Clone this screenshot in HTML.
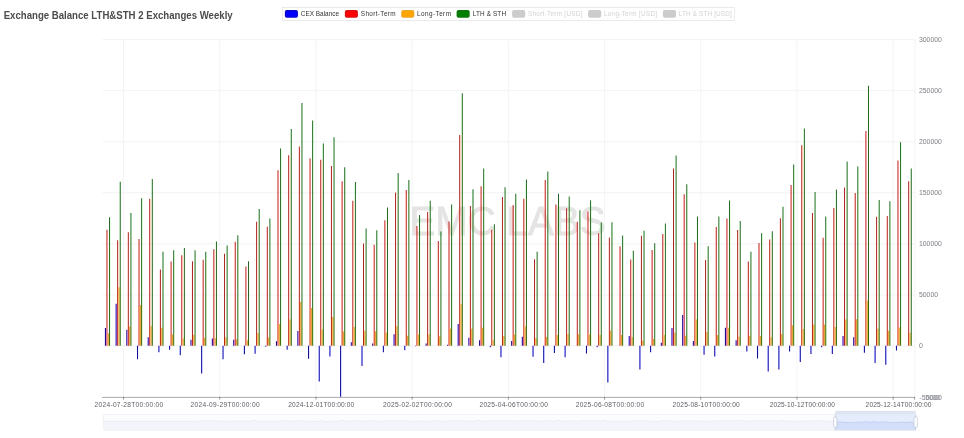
<!DOCTYPE html>
<html><head><meta charset="utf-8"><title>Exchange Balance LTH&amp;STH 2 Exchanges Weekly</title>
<style>
html,body{margin:0;padding:0;background:#fff;}
body{width:964px;height:438px;position:relative;overflow:hidden;font-family:"Liberation Sans",Arial,sans-serif;}
#wrap{position:absolute;left:0;top:0;width:964px;height:438px;background:#fff;filter:url(#cb);}
</style></head><body>
<svg width="0" height="0" style="position:absolute"><defs><filter id="cb" x="0" y="0" width="100%" height="100%" color-interpolation-filters="sRGB"><feGaussianBlur in="SourceGraphic" stdDeviation="0.85" result="B0"/><feComposite in="B0" in2="SourceGraphic" operator="arithmetic" k1="0" k2="0.7" k3="0.3" k4="0" result="B"/><feBlend in="B" in2="SourceGraphic" mode="color"/></filter></defs></svg>
<div id="wrap">
<svg width="260" height="30" viewBox="0 0 260 30" style="position:absolute;left:0;top:0"><text x="3.7" y="18.7" font-family="Liberation Sans,Arial,sans-serif" font-weight="bold" font-size="10" fill="#4c4c4c" textLength="229" lengthAdjust="spacingAndGlyphs">Exchange Balance LTH&amp;STH 2 Exchanges Weekly</text></svg>
<svg width="964" height="30" viewBox="0 0 964 30" style="position:absolute;left:0;top:0;font-family:'Liberation Sans',Arial,sans-serif">
<rect x="282.7" y="7.5" width="451.6" height="13.2" fill="none" stroke="#d6d6d6" stroke-width="0.5"/>
<rect x="284.85" y="10.1" width="13.1" height="7.6" rx="1.9" fill="#0000ff"/>
<text x="300.8" y="16.2" font-size="6.4" fill="#333" textLength="38.2" lengthAdjust="spacing">CEX Balance</text>
<rect x="344.85" y="10.1" width="13.1" height="7.6" rx="1.9" fill="#ff0000"/>
<text x="360.8" y="16.2" font-size="6.4" fill="#333" textLength="34.8" lengthAdjust="spacing">Short-Term</text>
<rect x="401.2" y="10.1" width="13.1" height="7.6" rx="1.9" fill="#ffa500"/>
<text x="417.1" y="16.2" font-size="6.4" fill="#333" textLength="33.9" lengthAdjust="spacing">Long-Term</text>
<rect x="456.6" y="10.1" width="13.1" height="7.6" rx="1.9" fill="#008000"/>
<text x="472.8" y="16.2" font-size="6.4" fill="#333" textLength="33.2" lengthAdjust="spacing">LTH &amp; STH</text>
<rect x="512.1" y="10.1" width="13.1" height="7.6" rx="1.9" fill="#ccc"/>
<text x="528" y="16.2" font-size="6.4" fill="#d2d2d2" textLength="54.5" lengthAdjust="spacing">Short-Term [USD]</text>
<rect x="588.1" y="10.1" width="13.1" height="7.6" rx="1.9" fill="#ccc"/>
<text x="603.9" y="16.2" font-size="6.4" fill="#d2d2d2" textLength="53.2" lengthAdjust="spacing">Long-Term [USD]</text>
<rect x="662.9" y="10.1" width="13.1" height="7.6" rx="1.9" fill="#ccc"/>
<text x="678.8" y="16.2" font-size="6.4" fill="#d2d2d2" textLength="53" lengthAdjust="spacing">LTH &amp; STH [USD]</text>
</svg>
<svg width="964" height="438" viewBox="0 0 964 438" style="position:absolute;left:0;top:0;font-family:'Liberation Sans',Arial,sans-serif">
<text x="409.6" y="234.8" font-size="41.5" fill="#e4e4e4" stroke="#e4e4e4" stroke-width="0.9" textLength="196" lengthAdjust="spacingAndGlyphs">EMC LABS</text>
<path d="M102.6 39.65H915M102.6 90.7H915M102.6 141.75H915M102.6 192.8H915M102.6 243.85H915M102.6 294.9H915M102.6 345.95H915" stroke="#e5e7ec" stroke-width="0.5" fill="none"/>
<path d="M123.53 39.65V397.4M219.73 39.65V397.4M315.94 39.65V397.4M412.14 39.65V397.4M508.35 39.65V397.4M604.56 39.65V397.4M700.76 39.65V397.4M796.97 39.65V397.4M893.17 39.65V397.4M915 39.65V397.4" stroke="#e5e7ec" stroke-width="0.45" fill="none"/>
<path d="M104.91 328.1h1.08V345.7h-1.08zM115.6 303.7h1.08V345.7h-1.08zM126.29 329.8h1.08V345.7h-1.08zM136.98 345.7h1.08V359.2h-1.08zM147.67 337.3h1.08V345.7h-1.08zM158.36 345.7h1.08V352.2h-1.08zM169.05 345.7h1.08V349.7h-1.08zM179.74 345.7h1.08V355.2h-1.08zM190.43 339.8h1.08V345.7h-1.08zM201.12 345.7h1.08V373.4h-1.08zM211.8 338.5h1.08V345.7h-1.08zM222.49 345.7h1.08V359.2h-1.08zM233.18 339.8h1.08V345.7h-1.08zM243.87 345.7h1.08V354.2h-1.08zM254.56 345.7h1.08V353.7h-1.08zM265.25 345.7h1.08V346.7h-1.08zM275.94 341.3h1.08V345.7h-1.08zM286.63 345.7h1.08V349.7h-1.08zM297.32 331.1h1.08V345.7h-1.08zM308.01 345.7h1.08V358.7h-1.08zM318.7 345.7h1.08V381.6h-1.08zM329.39 345.7h1.08V356.4h-1.08zM340.08 345.7h1.08V396.7h-1.08zM350.77 342.3h1.08V345.7h-1.08zM361.46 345.7h1.08V365.9h-1.08zM372.15 343.5h1.08V345.7h-1.08zM382.84 345.7h1.08V352.2h-1.08zM393.53 334.3h1.08V345.7h-1.08zM404.22 345.7h1.08V350.2h-1.08zM414.9 345.7h1.08V346.2h-1.08zM425.59 343.5h1.08V345.7h-1.08zM446.97 344.7h1.08V345.7h-1.08zM457.66 324.1h1.08V345.7h-1.08zM468.35 337.8h1.08V345.7h-1.08zM479.04 340.3h1.08V345.7h-1.08zM489.73 345.7h1.08V347.2h-1.08zM500.42 345.7h1.08V357.2h-1.08zM511.11 341h1.08V345.7h-1.08zM521.8 336.8h1.08V345.7h-1.08zM532.49 345.7h1.08V356.7h-1.08zM543.18 345.7h1.08V362.9h-1.08zM553.87 345.7h1.08V353h-1.08zM564.56 345.7h1.08V357.2h-1.08zM585.94 345.7h1.08V353.5h-1.08zM596.63 345.7h1.08V347.2h-1.08zM607.32 345.7h1.08V382.6h-1.08zM628.69 336h1.08V345.7h-1.08zM639.38 345.7h1.08V369.6h-1.08zM650.07 345.7h1.08V352.2h-1.08zM660.76 342.8h1.08V345.7h-1.08zM671.45 328.1h1.08V345.7h-1.08zM682.14 314.9h1.08V345.7h-1.08zM692.83 341h1.08V345.7h-1.08zM703.52 345.7h1.08V354.7h-1.08zM714.21 345.7h1.08V356.4h-1.08zM724.9 327.8h1.08V345.7h-1.08zM735.59 340.3h1.08V345.7h-1.08zM746.28 345.7h1.08V351.5h-1.08zM756.97 345.7h1.08V358.4h-1.08zM767.66 345.7h1.08V371.4h-1.08zM778.35 345.7h1.08V369.6h-1.08zM789.04 345.7h1.08V351.5h-1.08zM799.73 345.7h1.08V362h-1.08zM810.42 345.7h1.08V354h-1.08zM821.1 345.7h1.08V347.2h-1.08zM831.79 345.7h1.08V354h-1.08zM842.48 336h1.08V345.7h-1.08zM853.17 337.3h1.08V345.7h-1.08zM863.86 345.7h1.08V352.7h-1.08zM874.55 345.7h1.08V362.9h-1.08zM885.24 345.7h1.08V364.7h-1.08zM895.93 345.7h1.08V350.5h-1.08z" fill="#0000ff"/>
<path d="M106.45 229.8h1V345.7h-1zM117.14 240.2h1V345.7h-1zM127.83 232.3h1V345.7h-1zM138.52 239h1V345.7h-1zM149.21 198.7h1V345.7h-1zM159.9 269.6h1V345.7h-1zM170.59 261.4h1V345.7h-1zM181.28 255.2h1V345.7h-1zM191.97 261.2h1V345.7h-1zM202.66 259.7h1V345.7h-1zM213.34 249.2h1V345.7h-1zM224.03 253.7h1V345.7h-1zM234.72 241.7h1V345.7h-1zM245.41 266.6h1V345.7h-1zM256.1 221.8h1V345.7h-1zM266.79 226.8h1V345.7h-1zM277.48 170.2h1V345.7h-1zM288.17 155.2h1V345.7h-1zM298.86 146.5h1V345.7h-1zM309.55 158.2h1V345.7h-1zM320.24 159.7h1V345.7h-1zM330.93 166h1V345.7h-1zM341.62 181.3h1V345.7h-1zM352.31 200.7h1V345.7h-1zM363 243.5h1V345.7h-1zM373.69 244.7h1V345.7h-1zM384.38 220.3h1V345.7h-1zM395.07 192.4h1V345.7h-1zM405.76 190h1V345.7h-1zM416.44 226.1h1V345.7h-1zM427.13 211.9h1V345.7h-1zM437.82 241h1V345.7h-1zM448.51 221.6h1V345.7h-1zM459.2 135h1V345.7h-1zM469.89 206.1h1V345.7h-1zM480.58 186.3h1V345.7h-1zM491.27 229.8h1V345.7h-1zM501.96 196.9h1V345.7h-1zM512.65 204.9h1V345.7h-1zM523.34 198.7h1V345.7h-1zM534.03 259.2h1V345.7h-1zM544.72 180.1h1V345.7h-1zM555.41 204.4h1V345.7h-1zM566.1 208.2h1V345.7h-1zM576.79 221.7h1V345.7h-1zM587.48 211.4h1V345.7h-1zM598.17 233.2h1V345.7h-1zM608.86 237.5h1V345.7h-1zM619.54 246.2h1V345.7h-1zM630.23 259.4h1V345.7h-1zM640.92 235.7h1V345.7h-1zM651.61 249.9h1V345.7h-1zM662.3 234.1h1V345.7h-1zM672.99 168.6h1V345.7h-1zM683.68 194.3h1V345.7h-1zM694.37 242.5h1V345.7h-1zM705.06 259.9h1V345.7h-1zM715.75 227.1h1V345.7h-1zM726.44 218.4h1V345.7h-1zM737.13 230h1V345.7h-1zM747.82 261.6h1V345.7h-1zM758.51 242.9h1V345.7h-1zM769.2 239.6h1V345.7h-1zM779.89 218.3h1V345.7h-1zM790.58 185h1V345.7h-1zM801.27 145.2h1V345.7h-1zM811.96 213.1h1V345.7h-1zM822.64 237.8h1V345.7h-1zM833.33 208.1h1V345.7h-1zM844.02 187.5h1V345.7h-1zM854.71 192.9h1V345.7h-1zM865.4 131h1V345.7h-1zM876.09 216.8h1V345.7h-1zM886.78 216.1h1V345.7h-1zM897.47 160.4h1V345.7h-1zM908.16 181.3h1V345.7h-1z" fill="#ff0000"/>
<path d="M107.73 333.2h1.18V345.7h-1.18zM118.42 287.3h1.18V345.7h-1.18zM129.11 326.5h1.18V345.7h-1.18zM139.8 304.9h1.18V345.7h-1.18zM150.49 326.1h1.18V345.7h-1.18zM161.18 327.8h1.18V345.7h-1.18zM171.87 334.5h1.18V345.7h-1.18zM182.56 338.5h1.18V345.7h-1.18zM193.25 334.7h1.18V345.7h-1.18zM203.94 337.7h1.18V345.7h-1.18zM214.62 338h1.18V345.7h-1.18zM225.31 337.5h1.18V345.7h-1.18zM236 339.3h1.18V345.7h-1.18zM246.69 340.3h1.18V345.7h-1.18zM257.38 333h1.18V345.7h-1.18zM268.07 337.5h1.18V345.7h-1.18zM278.76 324h1.18V345.7h-1.18zM289.45 319.6h1.18V345.7h-1.18zM300.14 302.1h1.18V345.7h-1.18zM310.83 307.9h1.18V345.7h-1.18zM321.52 329.5h1.18V345.7h-1.18zM332.21 317h1.18V345.7h-1.18zM342.9 331.6h1.18V345.7h-1.18zM353.59 327h1.18V345.7h-1.18zM364.28 330.7h1.18V345.7h-1.18zM374.97 331.3h1.18V345.7h-1.18zM385.66 332.8h1.18V345.7h-1.18zM396.35 326.2h1.18V345.7h-1.18zM407.04 335.8h1.18V345.7h-1.18zM417.72 334.5h1.18V345.7h-1.18zM428.41 334.5h1.18V345.7h-1.18zM439.1 336.2h1.18V345.7h-1.18zM449.79 328.5h1.18V345.7h-1.18zM460.48 303.9h1.18V345.7h-1.18zM471.17 328.8h1.18V345.7h-1.18zM481.86 327.8h1.18V345.7h-1.18zM492.55 340.2h1.18V345.7h-1.18zM503.24 336.1h1.18V345.7h-1.18zM513.93 334.6h1.18V345.7h-1.18zM524.62 326.6h1.18V345.7h-1.18zM535.31 338.2h1.18V345.7h-1.18zM546 337h1.18V345.7h-1.18zM556.69 335.1h1.18V345.7h-1.18zM567.38 333.9h1.18V345.7h-1.18zM578.07 334.2h1.18V345.7h-1.18zM588.76 334.5h1.18V345.7h-1.18zM599.45 335.1h1.18V345.7h-1.18zM610.14 330.4h1.18V345.7h-1.18zM620.82 334.9h1.18V345.7h-1.18zM631.51 337h1.18V345.7h-1.18zM642.2 340.8h1.18V345.7h-1.18zM652.89 339h1.18V345.7h-1.18zM663.58 335h1.18V345.7h-1.18zM674.27 332.5h1.18V345.7h-1.18zM684.96 335.7h1.18V345.7h-1.18zM695.65 319.6h1.18V345.7h-1.18zM706.34 332.1h1.18V345.7h-1.18zM717.03 335h1.18V345.7h-1.18zM727.72 327.8h1.18V345.7h-1.18zM738.41 336.7h1.18V345.7h-1.18zM749.1 335.8h1.18V345.7h-1.18zM759.79 336h1.18V345.7h-1.18zM770.48 337.3h1.18V345.7h-1.18zM781.17 334.1h1.18V345.7h-1.18zM791.86 325.2h1.18V345.7h-1.18zM802.55 329h1.18V345.7h-1.18zM813.24 324.5h1.18V345.7h-1.18zM823.92 324.5h1.18V345.7h-1.18zM834.61 327.1h1.18V345.7h-1.18zM845.3 319.6h1.18V345.7h-1.18zM855.99 319.2h1.18V345.7h-1.18zM866.68 300.4h1.18V345.7h-1.18zM877.37 328.8h1.18V345.7h-1.18zM888.06 330.8h1.18V345.7h-1.18zM898.75 327.5h1.18V345.7h-1.18zM909.44 332.8h1.18V345.7h-1.18z" fill="#ffa500"/>
<path d="M109.05 217.3h1V345.7h-1zM119.74 181.8h1V345.7h-1zM130.43 213.1h1V345.7h-1zM141.12 198.2h1V345.7h-1zM151.81 179.1h1V345.7h-1zM162.5 251.7h1V345.7h-1zM173.19 250.2h1V345.7h-1zM183.88 248h1V345.7h-1zM194.57 250.2h1V345.7h-1zM205.26 251.7h1V345.7h-1zM215.94 241.5h1V345.7h-1zM226.63 245.5h1V345.7h-1zM237.32 235.3h1V345.7h-1zM248.01 261.2h1V345.7h-1zM258.7 209.1h1V345.7h-1zM269.39 218.6h1V345.7h-1zM280.08 148.5h1V345.7h-1zM290.77 129.1h1V345.7h-1zM301.46 102.9h1V345.7h-1zM312.15 120.4h1V345.7h-1zM322.84 143.5h1V345.7h-1zM333.53 137.3h1V345.7h-1zM344.22 167.2h1V345.7h-1zM354.91 182h1V345.7h-1zM365.6 228.5h1V345.7h-1zM376.29 230.3h1V345.7h-1zM386.98 207.4h1V345.7h-1zM397.67 172.9h1V345.7h-1zM408.36 180.1h1V345.7h-1zM419.04 214.9h1V345.7h-1zM429.73 200.7h1V345.7h-1zM440.42 231.5h1V345.7h-1zM451.11 204.4h1V345.7h-1zM461.8 93.2h1V345.7h-1zM472.49 189.2h1V345.7h-1zM483.18 168.4h1V345.7h-1zM493.87 224.3h1V345.7h-1zM504.56 187.3h1V345.7h-1zM515.25 193.8h1V345.7h-1zM525.94 179.6h1V345.7h-1zM536.63 251.7h1V345.7h-1zM547.32 171.4h1V345.7h-1zM558.01 193.8h1V345.7h-1zM568.7 196.4h1V345.7h-1zM579.39 210.2h1V345.7h-1zM590.08 200.2h1V345.7h-1zM600.77 222.6h1V345.7h-1zM611.46 222.2h1V345.7h-1zM622.14 235.4h1V345.7h-1zM632.83 250.7h1V345.7h-1zM643.52 230.8h1V345.7h-1zM654.21 243.2h1V345.7h-1zM664.9 223.4h1V345.7h-1zM675.59 155.4h1V345.7h-1zM686.28 184.3h1V345.7h-1zM696.97 216.4h1V345.7h-1zM707.66 246.3h1V345.7h-1zM718.35 216.4h1V345.7h-1zM729.04 200.5h1V345.7h-1zM739.73 221h1V345.7h-1zM750.42 251.7h1V345.7h-1zM761.11 233.2h1V345.7h-1zM771.8 231.2h1V345.7h-1zM782.49 206.7h1V345.7h-1zM793.18 164.5h1V345.7h-1zM803.87 128.5h1V345.7h-1zM814.56 191.9h1V345.7h-1zM825.24 216.6h1V345.7h-1zM835.93 189.5h1V345.7h-1zM846.62 161.4h1V345.7h-1zM857.31 166.4h1V345.7h-1zM868 85.7h1V345.7h-1zM878.69 199.9h1V345.7h-1zM889.38 201.2h1V345.7h-1zM900.07 142.2h1V345.7h-1zM910.76 168.4h1V345.7h-1z" fill="#008000"/>
<path d="M102.1 397.4H915" stroke="#6e7079" stroke-width="0.6" fill="none"/>
<path d="M123.53 396.8V399.7M219.73 396.8V399.7M315.94 396.8V399.7M412.14 396.8V399.7M508.35 396.8V399.7M604.56 396.8V399.7M700.76 396.8V399.7M796.97 396.8V399.7M893.17 396.8V399.7M914.6 396.8V399.7" stroke="#55575f" stroke-width="0.6" fill="none"/>
<text x="94.62" y="406.9" font-size="6.6" fill="#5f6169" textLength="68.5" lengthAdjust="spacing">2024-07-28T00:00:00</text>
<text x="190.58" y="406.9" font-size="6.6" fill="#5f6169" textLength="69" lengthAdjust="spacing">2024-09-29T00:00:00</text>
<text x="288.28" y="406.9" font-size="6.6" fill="#5f6169" textLength="66" lengthAdjust="spacing">2024-12-01T00:00:00</text>
<text x="383.09" y="406.9" font-size="6.6" fill="#5f6169" textLength="68.8" lengthAdjust="spacing">2025-02-02T00:00:00</text>
<text x="479.44" y="406.9" font-size="6.6" fill="#5f6169" textLength="68.5" lengthAdjust="spacing">2025-04-06T00:00:00</text>
<text x="575.7" y="406.9" font-size="6.6" fill="#5f6169" textLength="68.4" lengthAdjust="spacing">2025-06-08T00:00:00</text>
<text x="672.51" y="406.9" font-size="6.6" fill="#5f6169" textLength="67.2" lengthAdjust="spacing">2025-08-10T00:00:00</text>
<text x="769.66" y="406.9" font-size="6.6" fill="#5f6169" textLength="65.3" lengthAdjust="spacing">2025-10-12T00:00:00</text>
<text x="865.62" y="406.9" font-size="6.6" fill="#5f6169" textLength="65.8" lengthAdjust="spacing">2025-12-14T00:00:00</text>
<text x="918.9" y="41.9" font-size="6.9" fill="#7d7f87">300000</text>
<text x="918.9" y="92.95" font-size="6.9" fill="#7d7f87">250000</text>
<text x="918.9" y="144" font-size="6.9" fill="#7d7f87">200000</text>
<text x="918.9" y="195.05" font-size="6.9" fill="#7d7f87">150000</text>
<text x="918.9" y="246.1" font-size="6.9" fill="#7d7f87">100000</text>
<text x="918.9" y="297.15" font-size="6.9" fill="#7d7f87">50000</text>
<text x="918.9" y="348.2" font-size="6.9" fill="#7d7f87">0</text>
<text x="919.2" y="399.6" font-size="6.9" fill="#7d7f87" textLength="22.6" lengthAdjust="spacing">-50000</text>
<text x="925.3" y="399.6" font-size="6.9" fill="#8a8c94" textLength="14.6" lengthAdjust="spacing">5000</text>
</svg>
<svg width="964" height="30" viewBox="0 408 964 30" style="position:absolute;left:0;top:408px">
<rect x="103.4" y="414.4" width="812.3" height="15.9" rx="1.5" fill="#fbfcfe" stroke="#dde2ec" stroke-width="0.5"/>
<path d="M103.7 430 L103.7 421.3 L105.9 421.3 L108.1 421.3 L110.3 421.3 L112.5 421.3 L114.7 421.3 L116.9 421.3 L119.1 421.3 L121.3 421.3 L123.5 421.3 L125.7 421.3 L127.9 421.3 L130.1 421.3 L132.3 421.3 L134.5 421.3 L136.7 421.3 L138.9 421.3 L141.1 421.3 L143.3 421.3 L145.5 421.3 L147.7 421.3 L149.9 421.3 L152.1 421.3 L154.3 421.3 L156.5 421.3 L158.7 421.3 L160.9 421.3 L163.1 421.3 L165.3 421.3 L167.5 421.3 L169.7 421.3 L171.9 421.3 L174.1 421.3 L176.3 421.3 L178.5 421.3 L180.7 421.3 L182.9 421.3 L185.1 421.3 L187.3 421.3 L189.5 421.3 L191.7 421.3 L193.9 421.3 L196.1 421.3 L198.3 421.3 L200.5 420.74 L202.7 421.04 L204.9 420.87 L207.1 421.1 L209.3 421.13 L211.5 420.57 L213.7 420.51 L215.9 421.34 L218.1 420.76 L220.3 420.73 L222.5 421.5 L224.7 420.97 L226.9 421.34 L229.1 420.98 L231.3 421.14 L233.5 420.65 L235.7 421.13 L237.9 421.37 L240.1 421.02 L242.3 421.24 L244.5 421.17 L246.7 420.56 L248.9 421.26 L251.1 421.09 L253.3 420.8 L255.5 420.53 L257.7 421.37 L259.9 420.97 L262.1 421.22 L264.3 421.38 L266.5 421.21 L268.7 421.42 L270.9 420.89 L273.1 421.3 L275.3 420.94 L277.5 421.44 L279.7 421.38 L281.9 420.6 L284.1 420.64 L286.3 420.72 L288.5 421.47 L290.7 420.94 L292.9 421.13 L295.1 420.8 L297.3 421.01 L299.5 420.89 L301.7 420.85 L303.9 421.09 L306.1 421.08 L308.3 421.4 L310.5 421.18 L312.7 421.43 L314.9 421.36 L317.1 421.49 L319.3 421.17 L321.5 420.66 L323.7 421.36 L325.9 421.46 L328.1 421.4 L330.3 421.07 L332.5 421.21 L334.7 420.71 L336.9 421.33 L339.1 421.07 L341.3 420.78 L343.5 420.56 L345.7 421.35 L347.9 421.49 L350.1 420.59 L352.3 421.3 L354.5 420.91 L356.7 420.65 L358.9 420.79 L361.1 421.27 L363.3 421.37 L365.5 420.54 L367.7 421.11 L369.9 420.54 L372.1 421.22 L374.3 420.83 L376.5 421.38 L378.7 421.48 L380.9 421.01 L383.1 421.5 L385.3 420.81 L387.5 420.58 L389.7 421.1 L391.9 420.53 L394.1 420.7 L396.3 420.91 L398.5 421.11 L400.7 420.66 L402.9 420.54 L405.1 421.37 L407.3 420.81 L409.5 421.46 L411.7 421.4 L413.9 420.88 L416.1 420.96 L418.3 421.02 L420.5 421.14 L422.7 421.1 L424.9 421.06 L427.1 421.12 L429.3 421.44 L431.5 421.01 L433.7 420.93 L435.9 421.22 L438.1 420.74 L440.3 420.8 L442.5 421.48 L444.7 421.02 L446.9 421.05 L449.1 420.51 L451.3 420.92 L453.5 421.08 L455.7 420.52 L457.9 421.12 L460.1 421.13 L462.3 420.56 L464.5 421.13 L466.7 420.97 L468.9 421.18 L471.1 420.85 L473.3 421.21 L475.5 421.24 L477.7 420.52 L479.9 420.56 L482.1 421.18 L484.3 421.46 L486.5 420.75 L488.7 420.96 L490.9 421.09 L493.1 420.82 L495.3 420.86 L497.5 420.81 L499.7 420.87 L501.9 421.1 L504.1 420.8 L506.3 420.88 L508.5 421.27 L510.7 420.53 L512.9 421.07 L515.1 421.24 L517.3 420.81 L519.5 420.72 L521.7 421.3 L523.9 420.74 L526.1 420.69 L528.3 420.94 L530.5 421.2 L532.7 420.6 L534.9 420.82 L537.1 420.83 L539.3 421.33 L541.5 420.94 L543.7 421.36 L545.9 420.67 L548.1 420.84 L550.3 421.15 L552.5 421.38 L554.7 420.95 L556.9 420.73 L559.1 420.62 L561.3 421.03 L563.5 420.69 L565.7 421.31 L567.9 421.34 L570.1 420.68 L572.3 420.78 L574.5 421.31 L576.7 421.14 L578.9 421.31 L581.1 420.85 L583.3 420.63 L585.5 420.79 L587.7 421.29 L589.9 420.77 L592.1 420.85 L594.3 420.92 L596.5 420.92 L598.7 420.91 L600.9 421.42 L603.1 420.66 L605.3 420.5 L607.5 421.44 L609.7 421.38 L611.9 421.49 L614.1 420.93 L616.3 421.45 L618.5 421.43 L620.7 420.72 L622.9 421.25 L625.1 421.34 L627.3 421.16 L629.5 421.02 L631.7 420.79 L633.9 420.84 L636.1 420.73 L638.3 420.57 L640.5 421.09 L642.7 420.79 L644.9 421.31 L647.1 420.55 L649.3 421.4 L651.5 421.19 L653.7 421.42 L655.9 421.4 L658.1 421.4 L660.3 421.08 L662.5 420.51 L664.7 421.25 L666.9 420.67 L669.1 420.8 L671.3 421.16 L673.5 421.02 L675.7 420.91 L677.9 421.44 L680.1 421.11 L682.3 420.84 L684.5 420.75 L686.7 421.36 L688.9 420.98 L691.1 421.28 L693.3 420.85 L695.5 420.7 L697.7 421.03 L699.9 421.32 L702.1 420.67 L704.3 421.29 L706.5 421.42 L708.7 421.31 L710.9 421.32 L713.1 420.51 L715.3 421.13 L717.5 421.36 L719.7 420.55 L721.9 420.77 L724.1 420.77 L726.3 421.03 L728.5 420.92 L730.7 420.97 L732.9 421.28 L735.1 420.5 L737.3 420.55 L739.5 420.63 L741.7 420.62 L743.9 420.57 L746.1 421.47 L748.3 421.35 L750.5 420.59 L752.7 421 L754.9 420.82 L757.1 420.81 L759.3 420.85 L761.5 421.15 L763.7 421.09 L765.9 420.86 L768.1 420.69 L770.3 420.83 L772.5 420.62 L774.7 421.06 L776.9 421.22 L779.1 420.88 L781.3 420.58 L783.5 420.68 L785.7 420.87 L787.9 421.1 L790.1 421.28 L792.3 420.88 L794.5 421.3 L796.7 421.12 L798.9 420.93 L801.1 420.87 L803.3 421 L805.5 421.2 L807.7 420.92 L809.9 421.19 L812.1 420.96 L814.3 420.75 L816.5 421.04 L818.7 421.2 L820.9 420.57 L823.1 420.92 L825.3 420.93 L827.5 421.38 L829.7 421.44 L831.9 420.87 L834.1 421.4 L836.3 421.29 L838.5 420.76 L840.7 420.96 L842.9 420.62 L845.1 421.31 L847.3 421.16 L849.5 421.39 L851.7 421.29 L853.9 421.17 L856.1 421.23 L858.3 421.06 L860.5 420.6 L862.7 421.09 L864.9 420.5 L867.1 420.64 L869.3 421.27 L871.5 420.54 L873.7 420.59 L875.9 420.6 L878.1 421.38 L880.3 420.68 L882.5 420.52 L884.7 421.34 L886.9 420.62 L889.1 421.34 L891.3 421.17 L893.5 421.34 L895.7 421.45 L897.9 421.08 L900.1 421.3 L902.3 420.54 L904.5 421.27 L906.7 421.01 L908.9 421.22 L911.1 420.61 L913.3 421.25 L915.4 430Z" fill="#f4f5fa"/>
<path d="M103.7 421.3 L105.9 421.3 L108.1 421.3 L110.3 421.3 L112.5 421.3 L114.7 421.3 L116.9 421.3 L119.1 421.3 L121.3 421.3 L123.5 421.3 L125.7 421.3 L127.9 421.3 L130.1 421.3 L132.3 421.3 L134.5 421.3 L136.7 421.3 L138.9 421.3 L141.1 421.3 L143.3 421.3 L145.5 421.3 L147.7 421.3 L149.9 421.3 L152.1 421.3 L154.3 421.3 L156.5 421.3 L158.7 421.3 L160.9 421.3 L163.1 421.3 L165.3 421.3 L167.5 421.3 L169.7 421.3 L171.9 421.3 L174.1 421.3 L176.3 421.3 L178.5 421.3 L180.7 421.3 L182.9 421.3 L185.1 421.3 L187.3 421.3 L189.5 421.3 L191.7 421.3 L193.9 421.3 L196.1 421.3 L198.3 421.3 L200.5 420.74 L202.7 421.04 L204.9 420.87 L207.1 421.1 L209.3 421.13 L211.5 420.57 L213.7 420.51 L215.9 421.34 L218.1 420.76 L220.3 420.73 L222.5 421.5 L224.7 420.97 L226.9 421.34 L229.1 420.98 L231.3 421.14 L233.5 420.65 L235.7 421.13 L237.9 421.37 L240.1 421.02 L242.3 421.24 L244.5 421.17 L246.7 420.56 L248.9 421.26 L251.1 421.09 L253.3 420.8 L255.5 420.53 L257.7 421.37 L259.9 420.97 L262.1 421.22 L264.3 421.38 L266.5 421.21 L268.7 421.42 L270.9 420.89 L273.1 421.3 L275.3 420.94 L277.5 421.44 L279.7 421.38 L281.9 420.6 L284.1 420.64 L286.3 420.72 L288.5 421.47 L290.7 420.94 L292.9 421.13 L295.1 420.8 L297.3 421.01 L299.5 420.89 L301.7 420.85 L303.9 421.09 L306.1 421.08 L308.3 421.4 L310.5 421.18 L312.7 421.43 L314.9 421.36 L317.1 421.49 L319.3 421.17 L321.5 420.66 L323.7 421.36 L325.9 421.46 L328.1 421.4 L330.3 421.07 L332.5 421.21 L334.7 420.71 L336.9 421.33 L339.1 421.07 L341.3 420.78 L343.5 420.56 L345.7 421.35 L347.9 421.49 L350.1 420.59 L352.3 421.3 L354.5 420.91 L356.7 420.65 L358.9 420.79 L361.1 421.27 L363.3 421.37 L365.5 420.54 L367.7 421.11 L369.9 420.54 L372.1 421.22 L374.3 420.83 L376.5 421.38 L378.7 421.48 L380.9 421.01 L383.1 421.5 L385.3 420.81 L387.5 420.58 L389.7 421.1 L391.9 420.53 L394.1 420.7 L396.3 420.91 L398.5 421.11 L400.7 420.66 L402.9 420.54 L405.1 421.37 L407.3 420.81 L409.5 421.46 L411.7 421.4 L413.9 420.88 L416.1 420.96 L418.3 421.02 L420.5 421.14 L422.7 421.1 L424.9 421.06 L427.1 421.12 L429.3 421.44 L431.5 421.01 L433.7 420.93 L435.9 421.22 L438.1 420.74 L440.3 420.8 L442.5 421.48 L444.7 421.02 L446.9 421.05 L449.1 420.51 L451.3 420.92 L453.5 421.08 L455.7 420.52 L457.9 421.12 L460.1 421.13 L462.3 420.56 L464.5 421.13 L466.7 420.97 L468.9 421.18 L471.1 420.85 L473.3 421.21 L475.5 421.24 L477.7 420.52 L479.9 420.56 L482.1 421.18 L484.3 421.46 L486.5 420.75 L488.7 420.96 L490.9 421.09 L493.1 420.82 L495.3 420.86 L497.5 420.81 L499.7 420.87 L501.9 421.1 L504.1 420.8 L506.3 420.88 L508.5 421.27 L510.7 420.53 L512.9 421.07 L515.1 421.24 L517.3 420.81 L519.5 420.72 L521.7 421.3 L523.9 420.74 L526.1 420.69 L528.3 420.94 L530.5 421.2 L532.7 420.6 L534.9 420.82 L537.1 420.83 L539.3 421.33 L541.5 420.94 L543.7 421.36 L545.9 420.67 L548.1 420.84 L550.3 421.15 L552.5 421.38 L554.7 420.95 L556.9 420.73 L559.1 420.62 L561.3 421.03 L563.5 420.69 L565.7 421.31 L567.9 421.34 L570.1 420.68 L572.3 420.78 L574.5 421.31 L576.7 421.14 L578.9 421.31 L581.1 420.85 L583.3 420.63 L585.5 420.79 L587.7 421.29 L589.9 420.77 L592.1 420.85 L594.3 420.92 L596.5 420.92 L598.7 420.91 L600.9 421.42 L603.1 420.66 L605.3 420.5 L607.5 421.44 L609.7 421.38 L611.9 421.49 L614.1 420.93 L616.3 421.45 L618.5 421.43 L620.7 420.72 L622.9 421.25 L625.1 421.34 L627.3 421.16 L629.5 421.02 L631.7 420.79 L633.9 420.84 L636.1 420.73 L638.3 420.57 L640.5 421.09 L642.7 420.79 L644.9 421.31 L647.1 420.55 L649.3 421.4 L651.5 421.19 L653.7 421.42 L655.9 421.4 L658.1 421.4 L660.3 421.08 L662.5 420.51 L664.7 421.25 L666.9 420.67 L669.1 420.8 L671.3 421.16 L673.5 421.02 L675.7 420.91 L677.9 421.44 L680.1 421.11 L682.3 420.84 L684.5 420.75 L686.7 421.36 L688.9 420.98 L691.1 421.28 L693.3 420.85 L695.5 420.7 L697.7 421.03 L699.9 421.32 L702.1 420.67 L704.3 421.29 L706.5 421.42 L708.7 421.31 L710.9 421.32 L713.1 420.51 L715.3 421.13 L717.5 421.36 L719.7 420.55 L721.9 420.77 L724.1 420.77 L726.3 421.03 L728.5 420.92 L730.7 420.97 L732.9 421.28 L735.1 420.5 L737.3 420.55 L739.5 420.63 L741.7 420.62 L743.9 420.57 L746.1 421.47 L748.3 421.35 L750.5 420.59 L752.7 421 L754.9 420.82 L757.1 420.81 L759.3 420.85 L761.5 421.15 L763.7 421.09 L765.9 420.86 L768.1 420.69 L770.3 420.83 L772.5 420.62 L774.7 421.06 L776.9 421.22 L779.1 420.88 L781.3 420.58 L783.5 420.68 L785.7 420.87 L787.9 421.1 L790.1 421.28 L792.3 420.88 L794.5 421.3 L796.7 421.12 L798.9 420.93 L801.1 420.87 L803.3 421 L805.5 421.2 L807.7 420.92 L809.9 421.19 L812.1 420.96 L814.3 420.75 L816.5 421.04 L818.7 421.2 L820.9 420.57 L823.1 420.92 L825.3 420.93 L827.5 421.38 L829.7 421.44 L831.9 420.87 L834.1 421.4 L836.3 421.29 L838.5 420.76 L840.7 420.96 L842.9 420.62 L845.1 421.31 L847.3 421.16 L849.5 421.39 L851.7 421.29 L853.9 421.17 L856.1 421.23 L858.3 421.06 L860.5 420.6 L862.7 421.09 L864.9 420.5 L867.1 420.64 L869.3 421.27 L871.5 420.54 L873.7 420.59 L875.9 420.6 L878.1 421.38 L880.3 420.68 L882.5 420.52 L884.7 421.34 L886.9 420.62 L889.1 421.34 L891.3 421.17 L893.5 421.34 L895.7 421.45 L897.9 421.08 L900.1 421.3 L902.3 420.54 L904.5 421.27 L906.7 421.01 L908.9 421.22 L911.1 420.61 L913.3 421.25" fill="none" stroke="#d9dde7" stroke-width="0.45"/>
<rect x="835.3" y="410.9" width="80.4" height="3.6" fill="#d2dbee" opacity="0.75"/>
<rect x="835.3" y="414.5" width="80.4" height="15.7" fill="#e5ecfc"/>
<path d="M835.3 430.2 L835.3 422.4 L836.3 422.49 L838.5 421.96 L840.7 422.16 L842.9 421.82 L845.1 422.51 L847.3 422.36 L849.5 422.59 L851.7 422.49 L853.9 422.37 L856.1 422.43 L858.3 422.26 L860.5 421.8 L862.7 422.29 L864.9 421.7 L867.1 421.84 L869.3 422.47 L871.5 421.74 L873.7 421.79 L875.9 421.8 L878.1 422.58 L880.3 421.88 L882.5 421.72 L884.7 422.54 L886.9 421.82 L889.1 422.54 L891.3 422.37 L893.5 422.54 L895.7 422.65 L897.9 422.28 L900.1 422.5 L902.3 421.74 L904.5 422.47 L906.7 422.21 L908.9 422.42 L911.1 421.81 L913.3 422.45 L915.7 422.4 L915.7 430.2Z" fill="#d3dffa"/>
<path d="M835.3 422.4 L836.3 422.49 L838.5 421.96 L840.7 422.16 L842.9 421.82 L845.1 422.51 L847.3 422.36 L849.5 422.59 L851.7 422.49 L853.9 422.37 L856.1 422.43 L858.3 422.26 L860.5 421.8 L862.7 422.29 L864.9 421.7 L867.1 421.84 L869.3 422.47 L871.5 421.74 L873.7 421.79 L875.9 421.8 L878.1 422.58 L880.3 421.88 L882.5 421.72 L884.7 422.54 L886.9 421.82 L889.1 422.54 L891.3 422.37 L893.5 422.54 L895.7 422.65 L897.9 422.28 L900.1 422.5 L902.3 421.74 L904.5 422.47 L906.7 422.21 L908.9 422.42 L911.1 421.81 L913.3 422.45" fill="none" stroke="#a9bff0" stroke-width="0.5"/>
<path d="M835.3 414.5V430.2M915.7 414.5V430.2" stroke="#acb8d1" stroke-width="0.55"/>
<rect x="833.65" y="417.1" width="3.3" height="10.2" rx="1" fill="#fff" stroke="#acb8d1" stroke-width="0.55"/>
<rect x="914.05" y="417.1" width="3.3" height="10.2" rx="1" fill="#fff" stroke="#acb8d1" stroke-width="0.55"/>
</svg>
</div>
</body></html>
